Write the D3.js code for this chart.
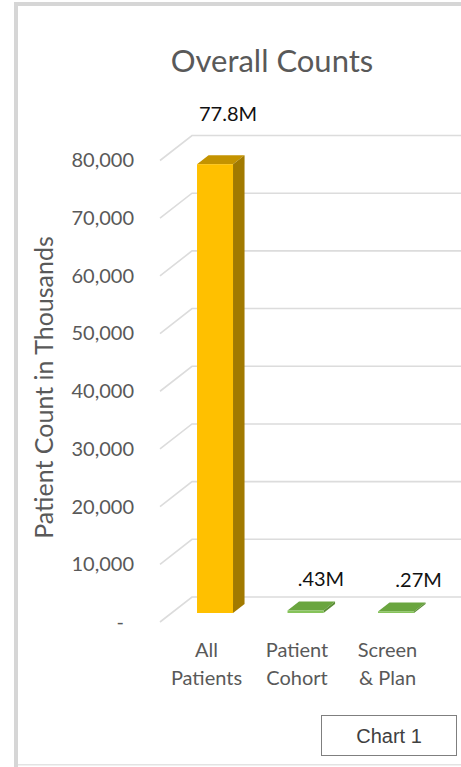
<!DOCTYPE html>
<html>
<head>
<meta charset="utf-8">
<script src="https://cdn.jsdelivr.net/npm/d3@7"></script>
<style>
  html, body { margin: 0; padding: 0; background: #ffffff; }
  svg { display: block; }
  text { font-family: Lato, "Noto Sans", sans-serif; }
</style>
</head>
<body>
<div id="chart"></div>
<script>
// ---------------- data ----------------
const categories = ["All Patients", "Patient Cohort", "Screen & Plan"];
const categoryLines = [["All", "Patients"], ["Patient", "Cohort"], ["Screen", "& Plan"]];
const values = [77800, 430, 270];           // patient count in thousands
const valueLabels = ["77.8M", ".43M", ".27M"];
const yTicks = [0, 10000, 20000, 30000, 40000, 50000, 60000, 70000, 80000];
const titleText = "Overall Counts";
const yAxisTitle = "Patient Count in Thousands";
const badgeText = "Chart 1";

// ---------------- styles ----------------
const faceColors = [
  { front: "#FFC000", top: "#C49300", side: "#A27A00" },
  { front: "#86C35A", top: "#6AA53F", side: "#5B8E36" },
  { front: "#86C35A", top: "#6AA53F", side: "#5B8E36" }
];
const W = 461, H = 767;

const svg = d3.select("#chart").append("svg")
  .attr("width", W).attr("height", H);

// outer frame
svg.append("rect").attr("x", 14).attr("y", 2).attr("width", 4).attr("height", H - 2).attr("fill", "#D6D6D6");
svg.append("rect").attr("x", 14).attr("y", 2).attr("width", W - 14).attr("height", 4).attr("fill", "#D6D6D6");
svg.append("rect").attr("x", 18).attr("y", 764).attr("width", W - 18).attr("height", 1.5).attr("fill", "#E3E3E3");

// ---------------- 3D geometry ----------------
// front plane (depth 0) coordinates; depth vector to back wall
const depth = { dx: 32, dy: -25 };
const y = d3.scaleLinear().domain([0, 80000]).range([622, 160.5]);
const x = d3.scaleBand().domain(categories)
  .range([140.25, 447.75]).paddingInner(0.6022).paddingOuter(0.5);
const barT0 = 0.36, barT1 = 0.72;           // bar front / back depth fraction
const shift = t => [depth.dx * t, depth.dy * t];

// gridlines: side wall diagonal + back wall horizontal
const grid = svg.append("g");
yTicks.forEach(v => {
  const yf = y(v);
  grid.append("path")
    .attr("d", d3.line()([[160, yf], [160 + depth.dx, yf + depth.dy], [W + 10, yf + depth.dy]]))
    .attr("fill", "none").attr("stroke", "#DCDCDC").attr("stroke-width", 1.6);
});

// y axis tick labels via d3 axis
const axisG = svg.append("g").attr("transform", "translate(134,0)")
  .call(d3.axisLeft(y).tickValues(yTicks).tickSize(0).tickPadding(0)
    .tickFormat(d => d === 0 ? "-" : d3.format(",")(d)));
axisG.select(".domain").remove();
axisG.selectAll("text")
  .attr("fill", "#595959").style("font-size", "20px").style("font-family", "Lato, sans-serif")
  .attr("dx", d => d === 0 ? -10 : 0);

// bars
const bars = svg.append("g");
categories.forEach((c, i) => {
  const [fx, fy] = shift(barT0);
  const [bx, by] = shift(barT1 - barT0);
  const x0 = x(c) + fx, x1 = x(c) + x.bandwidth() + fx;
  const yb = y(0) + fy, yt = y(values[i]) + fy;
  const col = faceColors[i];
  // top face
  bars.append("path")
    .attr("d", d3.line()([[x0, yt], [x1, yt], [x1 + bx, yt + by], [x0 + bx, yt + by]]) + "Z")
    .attr("fill", col.top);
  // side face
  bars.append("path")
    .attr("d", d3.line()([[x1, yt], [x1 + bx, yt + by], [x1 + bx, yb + by], [x1, yb]]) + "Z")
    .attr("fill", col.side);
  // front face
  bars.append("rect")
    .attr("x", x0).attr("y", yt).attr("width", x1 - x0).attr("height", Math.max(0, yb - yt))
    .attr("fill", col.front);

  // data label
  const lift = 15 + values[i] * 0.00025;
  svg.append("text")
    .attr("x", (x0 + x1) / 2 + 13 + 2.4 * i * i)
    .attr("y", yt + by - lift)
    .attr("text-anchor", "middle")
    .attr("fill", "#111111").style("font-size", "20px")
    .text(valueLabels[i]);

  // category label
  const lt = svg.append("text")
    .attr("text-anchor", "middle").attr("fill", "#595959").style("font-size", "20px");
  categoryLines[i].forEach((line, k) => {
    lt.append("tspan").attr("x", x(c) + x.bandwidth() / 2 + 3)
      .attr("y", 657 + k * 28).text(line);
  });
});

// title
svg.append("text").attr("x", 272).attr("y", 72)
  .attr("text-anchor", "middle").attr("fill", "#595959").style("font-size", "31px")
  .text(titleText);

// y axis title
svg.append("text")
  .attr("transform", "translate(53,387.5) rotate(-90)")
  .attr("text-anchor", "middle").attr("fill", "#595959").style("font-size", "25px")
  .text(yAxisTitle);

// Chart 1 badge
svg.append("rect").attr("x", 321.5).attr("y", 715.5).attr("width", 135).attr("height", 40)
  .attr("fill", "#ffffff").attr("stroke", "#7F7F7F").attr("stroke-width", 1);
svg.append("text").attr("x", 389).attr("y", 743)
  .attr("text-anchor", "middle").attr("fill", "#404040")
  .style("font-family", "'Liberation Sans', Arial, sans-serif").style("font-size", "20px")
  .text(badgeText);
</script>
</body>
</html>
